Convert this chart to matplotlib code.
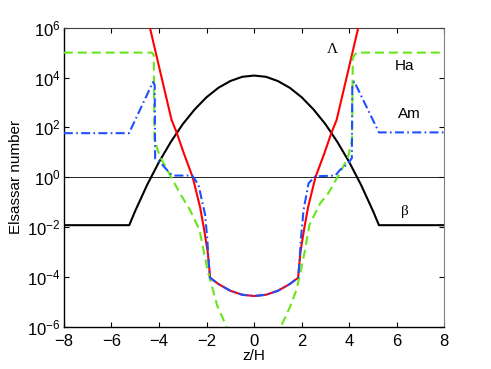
import numpy as np
import matplotlib
matplotlib.use("Agg")
import matplotlib.pyplot as plt

plt.rcParams["font.family"] = ["Liberation Sans", "DejaVu Sans"]
plt.rcParams["mathtext.fontset"] = "custom"
plt.rcParams["mathtext.rm"] = "Liberation Sans"
plt.rcParams["mathtext.default"] = "regular"

# log10 of the Elsasser numbers, against z/H
beta_z = [-8, -5.25, -5, -4.5, -4, -3.5, -3, -2.5, -2, -1.5, -1, -0.5, 0,
          0.5, 1, 1.5, 2, 2.5, 3, 3.5, 4, 4.5, 5, 5.25, 8]
beta_log = [-1.92, -1.92, -1.35, -0.31, 0.61, 1.42, 2.13, 2.72, 3.21, 3.59, 3.86, 4.03, 4.08,
            4.03, 3.86, 3.59, 3.21, 2.72, 2.13, 1.42, 0.61, -0.31, -1.35, -1.92, -1.92]

lam_z = [-4.45, -4.38, -4.0, -3.47, -3.25, -2.95, -2.58, -2.27, -2.1, -1.95, -1.88, -1.85,
         -1.5, -1.0, -0.5, 0, 0.5, 1.0, 1.5,
         1.85, 1.88, 1.95, 2.1, 2.27, 2.58, 2.95, 3.25, 3.47, 4.0, 4.38, 4.45]
lam_log = [6.3, 6.0, 4.45, 2.3, 1.78, 0.95, 0.0, -1.2, -2.1, -3.0, -3.7, -4.03,
           -4.28, -4.55, -4.71, -4.76, -4.71, -4.55, -4.28,
           -4.03, -3.7, -3.0, -2.1, -1.2, 0.0, 0.95, 1.78, 2.3, 4.45, 6.0, 6.3]

ha_z = [-8, -4.3, -4.22, -4.19, -3.96, -3.54, -3.12, -2.7, -2.3, -2.13, -1.95, -1.73, -1.55,
        -1.2, -1.0, -0.6, 0, 0.6, 1.0, 1.12, 1.5, 1.78, 1.97, 2.14, 2.33, 2.78, 3.12, 3.5,
        3.93, 4.12, 4.15, 4.3, 8]
ha_log = [5.0, 5.0, 4.9, 1.5, 0.83, 0.1, -0.64, -1.3, -2.1, -2.9, -3.75, -4.52, -5.15,
          -5.9, -6.35, -7.0, -7.5, -7.0, -6.35, -6.0, -5.22, -4.52, -3.72, -2.92, -1.9, -1.04,
          -0.64, 0.0, 0.75, 1.5, 4.8, 5.0, 5.0]

am_z = [-8, -5.26, -4.25, -4.18, -4.16, -3.9, -3.54, -3.4, -2.6, -2.34, -2.06, -1.97,
        -1.9, -1.85, -1.5, -1.0, -0.5, 0, 0.5, 1.0, 1.5, 1.85, 1.9, 1.97, 2.08, 2.29,
        2.57, 3.41, 3.62, 3.95, 4.11, 4.13, 4.21, 5.25, 8]
am_log = [1.77, 1.77, 3.82, 3.7, 0.75, 0.55, 0.16, 0.07, 0.07, -0.3, -1.5, -2.45,
          -3.5, -4.03, -4.28, -4.55, -4.71, -4.76, -4.71, -4.55, -4.28, -4.03, -3.5, -2.45,
          -1.31, -0.24, 0.04, 0.07, 0.3, 0.55, 0.77, 3.7, 3.84, 1.8, 1.8]

fig = plt.figure(figsize=(4.91, 3.69), dpi=100)
ax = fig.add_axes([0.130, 0.114, 0.775, 0.811])

ax.axhline(1.0, color="black", lw=0.6, zorder=1)
ax.semilogy(beta_z, 10 ** np.array(beta_log), color="black", lw=1.5, zorder=2)
ax.semilogy(lam_z, 10 ** np.array(lam_log), color="#ff0000", lw=1.5, zorder=3)
ax.semilogy(ha_z, 10 ** np.array(ha_log), color="#66e61a", lw=1.5,
            dashes=(4.3, 2.4), zorder=4)
ax.semilogy(am_z, 10 ** np.array(am_log), color="#1f4fff", lw=1.5,
            dashes=(4.3, 1.6, 0.8, 1.6), zorder=5)

ax.set_xlim(-8, 8)
ax.set_ylim(1e-6, 1e6)
ax.set_xticks(range(-8, 9, 2))
ax.set_xticklabels(["\u22128", "\u22126", "\u22124", "\u22122", "0", "2", "4", "6", "8"])
yt = [-6, -4, -2, 0, 2, 4, 6]
ax.set_yticks([10.0 ** k for k in yt])
ax.set_yticklabels(["$10^{%d}$" % k if k >= 0 else "$10^{\u2212%d}$" % -k for k in yt])
ax.minorticks_off()
ax.tick_params(direction="in", length=3.5, width=0.8, labelsize=12,
               top=True, right=True)
ax.tick_params(axis="x", pad=5)
ax.tick_params(axis="y", pad=2.5)
for s in ["left", "bottom"]:
    ax.spines[s].set_linewidth(1.0)
ax.spines["top"].set_color("0.25")
ax.spines["right"].set_color("0.5")

ax.set_xlabel("z/H", fontsize=11, labelpad=0)
ax.set_ylabel("Elsassar number", fontsize=11, labelpad=3)

ax.text(3.27, 10 ** 5.12, "\u039b", fontsize=11, family="Liberation Serif",
        ha="center", va="center")
ax.text(6.33, 10 ** 4.45, "Ha", fontsize=11, ha="center", va="center")
ax.text(6.54, 10 ** 2.53, "Am", fontsize=11, ha="center", va="center")
ax.text(6.36, 10 ** -1.38, "\u03b2", fontsize=11, family="Liberation Serif",
        ha="center", va="center")

fig.savefig("out.png", dpi=100)
